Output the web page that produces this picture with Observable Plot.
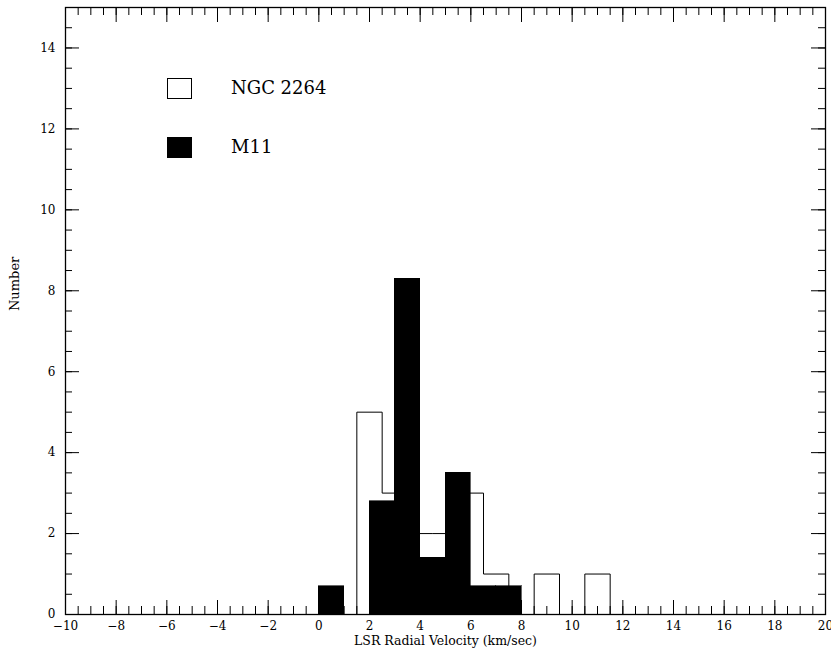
<!DOCTYPE html>
<html>
<head>
<meta charset="utf-8">
<script src="https://cdn.jsdelivr.net/npm/d3@7"></script>
<script src="https://cdn.jsdelivr.net/npm/@observablehq/plot@0.6"></script>
<style>
  html, body { margin: 0; padding: 0; background: #fff; }
  #wrap { position: relative; width: 831px; height: 651px; font-family: "DejaVu Serif", serif; }
  .lg-box { position: absolute; left: 167px; width: 25px; height: 21px; box-sizing: border-box; border: 1px solid #000; }
  .lg-text { position: absolute; left: 231px; font-size: 18px; line-height: 20px; color: #000; }
</style>
</head>
<body>
<div id="wrap"></div>
<script>
// ---- data ----
const seriesNames = ["NGC 2264", "M11"];
// NGC 2264: bins of width 1 starting at half-integers
const ngcBinStart = [1.5, 2.5, 3.5, 4.5, 5.5, 6.5, 7.5, 8.5, 9.5, 10.5];
const ngcCounts   = [5,   3,   2,   2,   3,   1,   0,   1,   0,   1];
// M11: bins of width 1 starting at integers
const m11BinStart = [0, 1, 2, 3, 4, 5, 6, 7];
const m11Counts   = [0.7, 0, 2.8, 8.3, 1.4, 3.5, 0.7, 0.7];
const binWidth = 1;
// axes
const xDomain = [-10, 20];
const yDomain = [0, 15];
const xMajorTicks = [-10, -8, -6, -4, -2, 0, 2, 4, 6, 8, 10, 12, 14, 16, 18, 20];
const yMajorTicks = [0, 2, 4, 6, 8, 10, 12, 14];
const xMinorTicks = d3.range(-10, 20.001, 0.5);
const yMinorTicks = d3.range(0, 15.001, 0.5);
const xTitle = "LSR Radial Velocity (km/sec)";
const yTitle = "Number";

// ---- build tables ----
const m11 = m11BinStart.map((s, i) => ({x1: s, x2: s + binWidth, y: m11Counts[i]})).filter(d => d.y > 0);
const ngcOutline = [{x: ngcBinStart[0], y: 0}]
  .concat(ngcBinStart.map((s, i) => ({x: s, y: ngcCounts[i]})))
  .concat([{x: ngcBinStart[ngcBinStart.length - 1] + binWidth, y: 0}]);

const W = 831, H = 651;
const mL = 65, mR = 6, mT = 7, mB = 37;
const fw = W - mL - mR, fh = H - mT - mB;
const fmt = d => d < 0 ? "\u2212" + (-d) : String(d);

const plot = Plot.plot({
  width: W, height: H,
  marginLeft: mL, marginRight: mR, marginTop: mT, marginBottom: mB,
  style: {fontFamily: "DejaVu Serif, serif", fontSize: "12px", background: "#fff", color: "#000"},
  x: {domain: xDomain},
  y: {domain: yDomain},
  marks: [
    Plot.line(ngcOutline, {x: "x", y: "y", curve: "step-after", stroke: "#000", strokeWidth: 1}),
    Plot.rectY(m11, {x1: "x1", x2: "x2", y: "y", fill: "#000", stroke: "#000", strokeWidth: 0.6, shapeRendering: "crispEdges"}),
    // inward ticks: bottom/top
    Plot.tickX(xMinorTicks, {x: d => d, insetTop: fh - 8, stroke: "#000"}),
    Plot.tickX(xMajorTicks, {x: d => d, insetTop: fh - 14, stroke: "#000"}),
    Plot.tickX(xMinorTicks, {x: d => d, insetBottom: fh - 8, stroke: "#000"}),
    Plot.tickX(xMajorTicks, {x: d => d, insetBottom: fh - 15, stroke: "#000"}),
    // inward ticks: left/right
    Plot.tickY(yMinorTicks, {y: d => d, insetRight: fw - 7, stroke: "#000"}),
    Plot.tickY(yMajorTicks, {y: d => d, insetRight: fw - 14, stroke: "#000"}),
    Plot.tickY(yMinorTicks, {y: d => d, insetLeft: fw - 7, stroke: "#000"}),
    Plot.tickY(yMajorTicks, {y: d => d, insetLeft: fw - 14, stroke: "#000"}),
    Plot.axisX({ticks: xMajorTicks, tickSize: 0, tickPadding: 7, tickFormat: fmt, label: null, fontSize: 12}),
    Plot.axisY({ticks: yMajorTicks, tickSize: 0, tickPadding: 10, tickFormat: fmt, label: null, fontSize: 12}),
    Plot.text([xTitle], {frameAnchor: "bottom", dy: 30, fontSize: 12.5, fill: "#000"}),
    Plot.text([yTitle], {frameAnchor: "left", rotate: -90, dx: -51, fontSize: 13, fill: "#000"}),
    Plot.frame({stroke: "#000", strokeWidth: 1.3})
  ]
});
const wrap = document.getElementById("wrap");
wrap.appendChild(plot);

// legend overlay
const legendRows = [
  {name: seriesNames[0], fill: "#fff", top: 78},
  {name: seriesNames[1], fill: "#000", top: 137}
];
for (const r of legendRows) {
  const b = document.createElement("div");
  b.className = "lg-box";
  b.style.top = r.top + "px";
  b.style.background = r.fill;
  wrap.appendChild(b);
  const t = document.createElement("div");
  t.className = "lg-text";
  t.style.top = r.top + "px";
  t.textContent = r.name;
  wrap.appendChild(t);
}
</script>
</body>
</html>
